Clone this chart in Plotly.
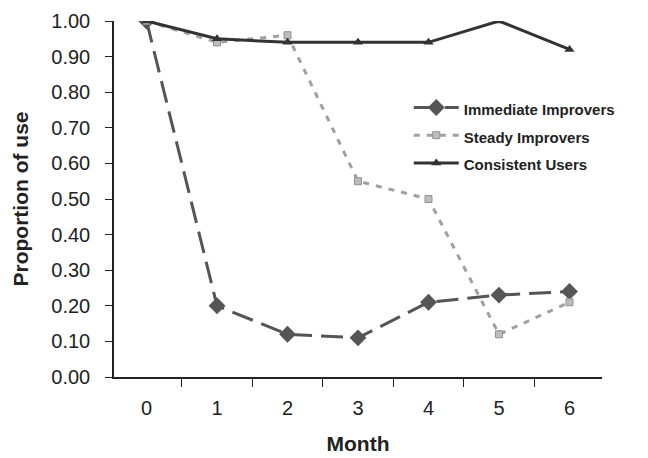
import plotly.graph_objects as go

months = ["0", "1", "2", "3", "4", "5", "6"]
immediate = [1.00, 0.20, 0.12, 0.11, 0.21, 0.23, 0.24]
steady = [1.00, 0.94, 0.96, 0.55, 0.50, 0.12, 0.21]
consistent = [1.00, 0.95, 0.94, 0.94, 0.94, 1.00, 0.92]
y_ticks = [0.0, 0.1, 0.2, 0.3, 0.4, 0.5, 0.6, 0.7, 0.8, 0.9, 1.0]
names = ["Immediate Improvers", "Steady Improvers", "Consistent Users"]


def label(s):
    return "<span style='font-size:15px'><b>" + s + "</b></span>"


fig = go.Figure()
fig.add_trace(go.Scatter(
    x=months, y=immediate, name=label(names[0]), mode="lines+markers",
    line=dict(color="#555555", width=3, dash="22px,9px"),
    marker=dict(symbol="diamond", size=13, color="#555555")))
fig.add_trace(go.Scatter(
    x=months, y=steady, name=label(names[1]), mode="lines+markers",
    line=dict(color="#a0a0a0", width=3, dash="6px,7px"),
    marker=dict(symbol="square", size=7, color="#bdbdbd", line=dict(color="#909090", width=1))))
fig.add_trace(go.Scatter(
    x=months, y=consistent, name=label(names[2]), mode="lines+markers",
    line=dict(color="#333333", width=3),
    marker=dict(symbol="triangle-up", size=9, color="#333333")))

fig.update_layout(
    width=648, height=458,
    margin=dict(l=106, r=54, t=13, b=89, autoexpand=False),
    paper_bgcolor="white", plot_bgcolor="white",
    font=dict(family="Liberation Sans, Arial", color="#222222", size=18),
    showlegend=True,
    legend=dict(x=0.604, y=0.81, xanchor="left", yanchor="top",
                bgcolor="rgba(0,0,0,0)", font=dict(size=19, color="#222222"),
                tracegroupgap=0, itemwidth=45),
    xaxis=dict(type="category", tickson="boundaries", ticks="outside", ticklen=8,
               tickcolor="#222222", showline=True, linecolor="#222222", linewidth=1.5,
               showgrid=False, zeroline=False, automargin=False,
               ticklabelstandoff=12,
               title=dict(text="<b>Month</b>", font=dict(size=21), standoff=19),
               tickfont=dict(size=20)),
    yaxis=dict(range=[0, 1.0], tickvals=y_ticks, tickformat=".2f", ticks="outside",
               ticklen=7, tickcolor="#222222", showline=True, linecolor="#222222",
               linewidth=1.5, showgrid=False, zeroline=False, automargin=False,
               ticklabelstandoff=11,
               title=dict(text="<b>Proportion of use</b>", font=dict(size=21), standoff=17),
               tickfont=dict(size=20)),
)

fig.write_html("out.html")
